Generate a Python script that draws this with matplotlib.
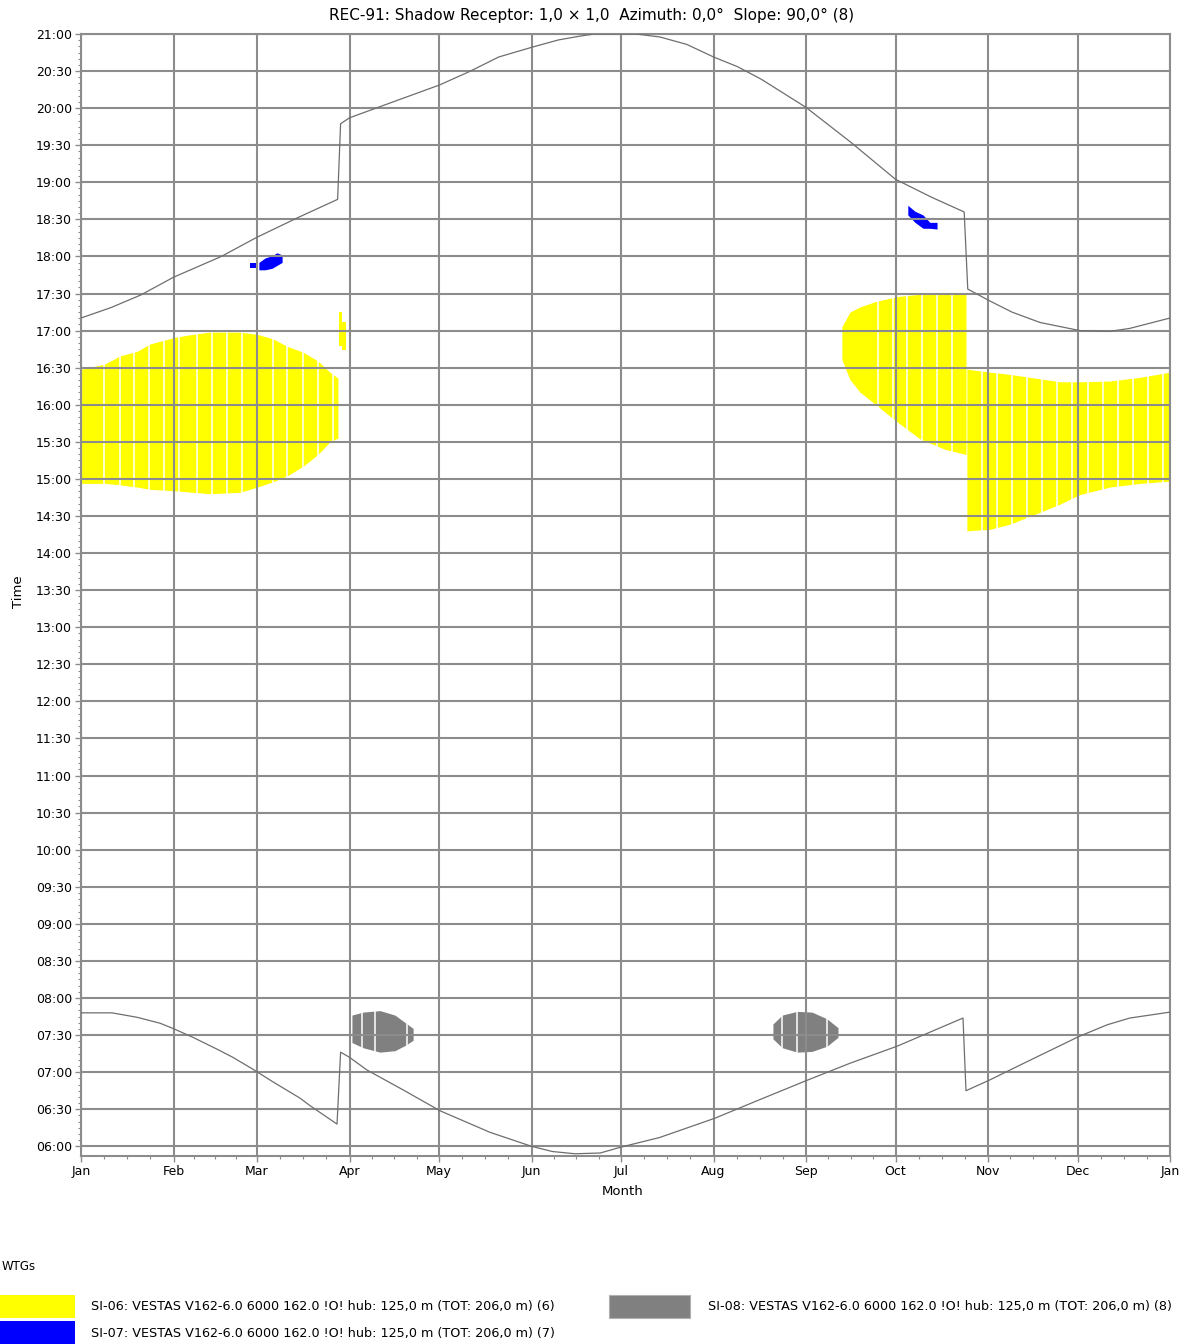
import matplotlib
matplotlib.use('Agg')
import matplotlib.pyplot as plt
import numpy as np
from matplotlib.patches import Rectangle

plt.rcParams['font.family'] = ['DejaVu Sans']

month_starts = [0, 31, 59, 90, 120, 151, 181, 212, 243, 273, 304, 334, 365]
month_labels = ['Jan', 'Feb', 'Mar', 'Apr', 'May', 'Jun', 'Jul',
                'Aug', 'Sep', 'Oct', 'Nov', 'Dec', 'Jan']

# sun set / sun rise (day of year, decimal hour)
sunset_day = [0, 10, 20, 31, 47, 59, 73, 86, 87, 90, 107, 120, 130, 140, 151,
              160, 167, 172, 186, 194, 203, 212, 220, 228, 243, 258, 273,
              285, 296, 297.2, 304.6, 312, 321.4, 334.8, 344.8, 351.5, 365]
sunset_hour = [17.17, 17.31, 17.48, 17.72, 18.0, 18.26, 18.53, 18.77, 19.79,
               19.87, 20.12, 20.31, 20.49, 20.69, 20.82, 20.92, 20.97, 21.0,
               21.0, 20.96, 20.86, 20.69, 20.56, 20.39, 20.01, 19.54, 19.04,
               18.8, 18.6, 17.56, 17.4, 17.25, 17.11, 17.0, 16.99, 17.03,
               17.17]
sunrise_day = [0, 10.4, 18.8, 26.5, 30.8, 37.5, 45.6, 50.9, 57.6, 64.3, 73.4,
               76.7, 85.8, 87, 90, 95.8, 108, 120.3, 137, 151, 158, 165.5,
               174, 181, 194, 212.5, 227.5, 243.3, 257.7, 273.5, 295.6, 296.6,
               304.3, 318, 334.4, 344, 351.5, 365]
sunrise_hour = [7.80, 7.80, 7.74, 7.66, 7.59, 7.47, 7.31, 7.2, 7.04, 6.87,
                6.65, 6.55, 6.30, 7.27, 7.2, 7.03, 6.76, 6.48, 6.19, 6.0,
                5.93, 5.9, 5.91, 5.99, 6.12, 6.38, 6.63, 6.89, 7.12, 7.35,
                7.73, 6.75, 6.89, 7.16, 7.48, 7.64, 7.73, 7.81]

# SI-06 (yellow)
si06_a_day = [0.2, 8, 13.1, 18.8, 23.1, 31.5, 37.5, 43.2, 53.3, 59, 64.3, 69,
              74.4, 79.4, 83.4, 86.1]
si06_a_hi = [16.48, 16.55, 16.66, 16.72, 16.82, 16.91, 16.95, 16.98, 16.98,
             16.95, 16.89, 16.79, 16.71, 16.59, 16.44, 16.36]
si06_a_lo = [14.94, 14.94, 14.92, 14.89, 14.86, 14.84, 14.82, 14.80, 14.82,
             14.89, 14.96, 15.04, 15.17, 15.33, 15.50, 15.55]
si06_b_day = [86.6, 87.6, 88.8]
si06_b_hi = [17.25, 17.12, 17.12]
si06_b_lo = [16.79, 16.74, 16.74]
si06_c_day = [255, 257.7, 261.1, 266.1, 273.5, 281.2, 289.5, 296.6]
si06_c_hi = [17.05, 17.25, 17.32, 17.39, 17.46, 17.49, 17.49, 17.49]
si06_c_lo = [16.61, 16.34, 16.17, 16.01, 15.77, 15.54, 15.40, 15.33]
si06_d_day = [296.9, 304.6, 311.3, 321.4, 328.1, 334.8, 344.8, 354.9, 365]
si06_d_hi = [16.48, 16.44, 16.41, 16.35, 16.31, 16.31, 16.32, 16.37, 16.44]
si06_d_lo = [14.30, 14.32, 14.39, 14.55, 14.66, 14.79, 14.89, 14.94, 14.97]
si06_gaps = [7.8, 12.9, 17.9, 22.9, 27.9, 32.9, 38.9, 44, 48.8, 54, 59.1,
             64.2, 69.2, 74.3, 79.3, 84.4,
             267, 272, 277, 282, 287, 292, 302, 307, 312, 317, 322, 327,
             332, 337.5, 342.5, 347.5, 352.5, 357.6, 362.6]

# SI-07 (blue)
si07_a_day = [59.6, 61.7, 64, 65.7, 67.4]
si07_a_hi = [17.92, 17.98, 18.01, 18.05, 18.02]
si07_a_lo = [17.82, 17.82, 17.84, 17.88, 17.92]
si07_b_day = [56.6, 58.6]
si07_b_hi = [17.91, 17.91]
si07_b_lo = [17.84, 17.84]
si07_c_day = [277.1, 279.5, 282.2, 284.5, 286.9]
si07_c_hi = [18.69, 18.61, 18.56, 18.46, 18.46]
si07_c_lo = [18.56, 18.46, 18.38, 18.38, 18.37]

# SI-08 (grey)
si08_a_day = [90.8, 94.5, 100.2, 105.2, 108.6, 111.3]
si08_a_hi = [7.77, 7.81, 7.83, 7.77, 7.67, 7.59]
si08_a_lo = [7.40, 7.33, 7.27, 7.29, 7.36, 7.43]
si08_b_day = [231.9, 235, 240, 245, 250, 253.7]
si08_b_hi = [7.65, 7.77, 7.82, 7.81, 7.72, 7.6]
si08_b_lo = [7.45, 7.33, 7.27, 7.28, 7.35, 7.47]
si08_gaps = [94.2, 98.5, 109.2, 235, 240, 250]

fig = plt.figure(figsize=(11.88, 13.44), dpi=100)
ax = fig.add_axes([0.0682, 0.1399, 0.9167, 0.8348])

yellow, blue, grey = '#FFFF00', '#0000FF', '#808080'
for d, lo, hi in [(si06_a_day, si06_a_lo, si06_a_hi),
                  (si06_c_day, si06_c_lo, si06_c_hi),
                  (si06_d_day, si06_d_lo, si06_d_hi)]:
    ax.fill_between(d, lo, hi, color=yellow, lw=0, zorder=1)
ax.fill_between(si06_b_day, si06_b_lo, si06_b_hi, step='post', color=yellow, lw=0, zorder=1)
for d, lo, hi in [(si07_a_day, si07_a_lo, si07_a_hi),
                  (si07_c_day, si07_c_lo, si07_c_hi)]:
    ax.fill_between(d, lo, hi, color=blue, lw=0, zorder=1)
ax.fill_between(si07_b_day, si07_b_lo, si07_b_hi, color=blue, lw=0, zorder=1)
for d, lo, hi in [(si08_a_day, si08_a_lo, si08_a_hi),
                  (si08_b_day, si08_b_lo, si08_b_hi)]:
    ax.fill_between(d, lo, hi, color=grey, lw=0, zorder=1)

# white day gaps in the shadow bands
ax.vlines(si06_gaps, 14.2, 17.6, colors='white', lw=1.1, zorder=2)
ax.vlines(si08_gaps, 7.2, 7.9, colors='white', lw=1.1, zorder=2)

ax.plot(sunset_day, sunset_hour, color='#6e6e6e', lw=0.9, zorder=4)
ax.plot(sunrise_day, sunrise_hour, color='#6e6e6e', lw=0.9, zorder=4)

ax.set_xlim(0, 365)
ax.set_ylim(5.87, 21.0)

ax.set_xticks(month_starts)
ax.set_xticklabels(month_labels)
minor_x = []
for a, b in zip(month_starts[:-1], month_starts[1:]):
    minor_x += [a + (b - a) * k / 4 for k in (1, 2, 3)]
ax.set_xticks(minor_x, minor=True)

yt = np.arange(6, 21.01, 0.5)
ax.set_yticks(yt)
ax.set_yticklabels(['%02d:%02d' % (int(h), round((h % 1) * 60)) for h in yt])
ax.set_yticks(np.arange(6, 21.0, 1 / 12), minor=True)

ax.grid(True, which='major', color='#8c8c8c', lw=1.5, zorder=3)
ax.set_axisbelow(False)
for s in ax.spines.values():
    s.set_color('#8c8c8c')
    s.set_linewidth(1.5)
ax.tick_params(which='major', length=4.5, width=1, color='#8c8c8c', labelsize=9, pad=2)
ax.tick_params(which='minor', length=2.5, width=0.8, color='#8c8c8c')

fig.text(0.498, 0.9888, 'REC-91: Shadow Receptor: 1,0 \u00d7 1,0  Azimuth: 0,0\u00b0  Slope: 90,0\u00b0 (8)',
         ha='center', va='center', fontsize=11)
fig.text(0.0152, 0.5595, 'Time', rotation=90, ha='center', va='center', fontsize=9.5)
fig.text(0.5244, 0.1131, 'Month', ha='center', va='center', fontsize=9.5)

# legend
fig.text(0.001, 0.0573, 'WTGs', ha='left', va='center', fontsize=8.5)
fig.add_artist(Rectangle((0, 0.01935), 0.0631, 0.0171, transform=fig.transFigure,
                         facecolor=yellow, edgecolor='none'))
fig.add_artist(Rectangle((0, 0.0), 0.0631, 0.0171, transform=fig.transFigure,
                         facecolor=blue, edgecolor='none'))
fig.add_artist(Rectangle((0.5126, 0.01935), 0.0682, 0.0171, transform=fig.transFigure,
                         facecolor=grey, edgecolor='#b0b0b0', lw=0.8))
legend_font = 9.2
fig.text(0.0766, 0.02827, 'SI-06: VESTAS V162-6.0 6000 162.0 !O! hub: 125,0 m (TOT: 206,0 m) (6)',
         ha='left', va='center', fontsize=legend_font)
fig.text(0.0766, 0.00818, 'SI-07: VESTAS V162-6.0 6000 162.0 !O! hub: 125,0 m (TOT: 206,0 m) (7)',
         ha='left', va='center', fontsize=legend_font)
fig.text(0.596, 0.02827, 'SI-08: VESTAS V162-6.0 6000 162.0 !O! hub: 125,0 m (TOT: 206,0 m) (8)',
         ha='left', va='center', fontsize=legend_font)

fig.savefig('out.png', dpi=100)
